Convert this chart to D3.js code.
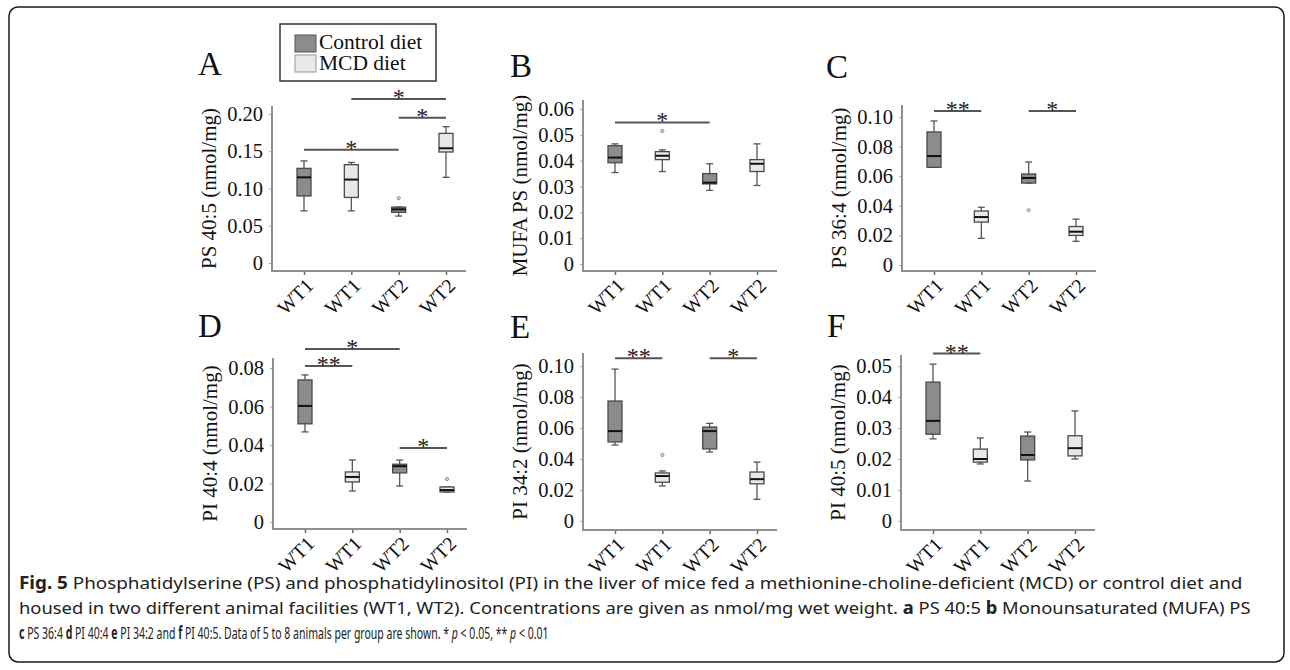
<!DOCTYPE html>
<html>
<head>
<meta charset="utf-8">
<script src="https://cdn.jsdelivr.net/npm/d3@7"></script>
<style>
  body { margin: 0; background: #fff; }
  svg { display: block; }
</style>
</head>
<body>
<script>
// groups along the x axis of every panel
const categories = ["WT1", "WT1", "WT2", "WT2"];
const diets = ["Control", "MCD", "Control", "MCD"];

// box stats per group: [whisker low, q1, median, q3, whisker high]
const boxesA = [[0.070, 0.090, 0.115, 0.127, 0.137], [0.070, 0.088, 0.112, 0.132, 0.135], [0.063, 0.068, 0.072, 0.075, 0.075], [0.115, 0.149, 0.154, 0.174, 0.183]];
const boxesB = [[0.0354, 0.0392, 0.0412, 0.0458, 0.0465], [0.0358, 0.0404, 0.0419, 0.0435, 0.0442], [0.0285, 0.031, 0.0315, 0.035, 0.0388], [0.0304, 0.0358, 0.0388, 0.0404, 0.0465]];
const boxesC = [[0.066, 0.066, 0.0736, 0.0899, 0.0973], [0.018, 0.029, 0.0324, 0.0365, 0.039], [0.0554, 0.0554, 0.0588, 0.0615, 0.0696], [0.016, 0.020, 0.0225, 0.026, 0.031]];
const boxesD = [[0.0468, 0.051, 0.0603, 0.0738, 0.0764], [0.0161, 0.0208, 0.0234, 0.026, 0.0322], [0.0187, 0.0255, 0.029, 0.030, 0.0322], [0.0156, 0.0156, 0.0166, 0.0182, 0.0182]];
const boxesE = [[0.049, 0.051, 0.058, 0.0774, 0.098], [0.0226, 0.025, 0.029, 0.031, 0.0323], [0.0445, 0.0465, 0.058, 0.0606, 0.063], [0.014, 0.024, 0.027, 0.0316, 0.038]];
const boxesF = [[0.0265, 0.028, 0.0323, 0.0448, 0.0506], [0.0184, 0.019, 0.020, 0.0232, 0.0268], [0.0129, 0.0197, 0.0213, 0.0274, 0.0287], [0.020, 0.021, 0.0235, 0.0275, 0.0355]];

// outliers: [group, value]
const outliersA = [[2, 0.087]];
const outliersB = [[1, 0.0515]];
const outliersC = [[2, 0.037]];
const outliersD = [[3, 0.0223]];
const outliersE = [[1, 0.0426]];
const outliersF = [];

// significance bars: [from group, to group, value, label]
const sigA = [[1, 3, 0.22, "*"], [2, 3, 0.195, "*"], [0, 2, 0.152, "*"]];
const sigB = [[0, 2, 0.0548, "*"]];
const sigC = [[0, 1, 0.104, "**"], [2, 3, 0.104, "*"]];
const sigD = [[0, 2, 0.0899, "*"], [0, 1, 0.081, "**"], [2, 3, 0.0384, "*"]];
const sigE = [[0, 1, 0.105, "**"], [2, 3, 0.105, "*"]];
const sigF = [[0, 1, 0.054, "**"]];

const ticksA = [0, 0.05, 0.10, 0.15, 0.20];
const ticksB = [0, 0.01, 0.02, 0.03, 0.04, 0.05, 0.06];
const ticksC = [0, 0.02, 0.04, 0.06, 0.08, 0.10];
const ticksD = [0, 0.02, 0.04, 0.06, 0.08];
const ticksE = [0, 0.02, 0.04, 0.06, 0.08, 0.10];
const ticksF = [0, 0.01, 0.02, 0.03, 0.04, 0.05];

const yTitles = ["PS 40:5 (nmol/mg)", "MUFA PS (nmol/mg)", "PS 36:4 (nmol/mg)", "PI 40:4 (nmol/mg)", "PI 34:2 (nmol/mg)", "PI 40:5 (nmol/mg)"];
const letters = ["A", "B", "C", "D", "E", "F"];
const legendLabels = ["Control diet", "MCD diet"];

// layout of each panel (pixels)
const layout = [
  { x0: 272, base: 271, top: 106, yZero: 263, yMax: 114, lx: 198, ly: 75 },
  { x0: 583, base: 271, top: 100, yZero: 264, yMax: 109, lx: 510, ly: 77 },
  { x0: 902, base: 271, top: 105, yZero: 265, yMax: 117, lx: 826, ly: 78 },
  { x0: 273, base: 529, top: 358, yZero: 522, yMax: 368, lx: 198, ly: 337 },
  { x0: 583, base: 530, top: 353, yZero: 521, yMax: 366, lx: 510, ly: 338 },
  { x0: 901, base: 530, top: 355, yZero: 521, yMax: 366, lx: 827, ly: 337 }
];

const fill = { Control: "#8c8c8c", MCD: "#e8e8e8" };
const serif = "'Liberation Serif', 'Times New Roman', serif";

const svg = d3.select("body").append("svg")
  .attr("width", 1290)
  .attr("height", 670);

svg.append("rect")
  .attr("x", 9).attr("y", 7)
  .attr("width", 1275).attr("height", 655)
  .attr("rx", 9)
  .attr("fill", "none")
  .attr("stroke", "#1a1a1a")
  .attr("stroke-width", 1.5);

function drawPanel(i, ticks, boxes, outliers, sigs) {
  const p = layout[i];
  const g = svg.append("g");
  const y = d3.scaleLinear().domain([0, d3.max(ticks)]).range([p.yZero, p.yMax]);
  const x = d3.scalePoint().domain(d3.range(categories.length)).range([p.x0 + 32, p.x0 + 174]);
  const right = p.x0 + 194;

  // y axis
  const ya = g.append("g")
    .attr("transform", `translate(${p.x0},0)`)
    .call(d3.axisLeft(y).tickValues(ticks)
      .tickFormat(d => d === 0 ? "0" : d.toFixed(2))
      .tickSize(3).tickPadding(6));
  ya.select(".domain").remove();
  ya.selectAll(".tick line").attr("stroke", "#aaa");
  ya.selectAll(".tick text")
    .attr("font-family", serif)
    .attr("font-size", 20.5)
    .attr("fill", "#111");

  // x axis
  const xa = g.append("g")
    .attr("transform", `translate(0,${p.base})`)
    .call(d3.axisBottom(x).tickFormat(k => categories[k]).tickSize(4));
  xa.select(".domain").remove();
  xa.selectAll(".tick line").attr("stroke", "#666").attr("stroke-width", 1.5);
  xa.selectAll(".tick text")
    .attr("x", 0).attr("y", 0)
    .attr("dy", "0.35em")
    .attr("text-anchor", "end")
    .attr("transform", "translate(5,11) rotate(-45)")
    .attr("font-family", serif)
    .attr("font-size", 20)
    .attr("fill", "#111");

  // L shaped axis lines
  g.append("path")
    .attr("d", `M${p.x0},${p.top}V${p.base}H${right}`)
    .attr("fill", "none")
    .attr("stroke", "#8f8f8f")
    .attr("stroke-width", 2);

  // boxes
  const bw = 14, cw = 7;
  const bg = g.selectAll(".box").data(boxes).join("g").attr("class", "box");
  bg.append("line")
    .attr("x1", (d, k) => x(k)).attr("x2", (d, k) => x(k))
    .attr("y1", d => y(d[0])).attr("y2", d => y(d[4]))
    .attr("stroke", "#555").attr("stroke-width", 1.3);
  bg.append("line")
    .attr("x1", (d, k) => x(k) - cw / 2).attr("x2", (d, k) => x(k) + cw / 2)
    .attr("y1", d => y(d[0])).attr("y2", d => y(d[0]))
    .attr("stroke", "#555").attr("stroke-width", 1.3);
  bg.append("line")
    .attr("x1", (d, k) => x(k) - cw / 2).attr("x2", (d, k) => x(k) + cw / 2)
    .attr("y1", d => y(d[4])).attr("y2", d => y(d[4]))
    .attr("stroke", "#555").attr("stroke-width", 1.3);
  bg.append("rect")
    .attr("x", (d, k) => x(k) - bw / 2)
    .attr("width", bw)
    .attr("y", d => y(d[3]))
    .attr("height", d => Math.max(1, y(d[1]) - y(d[3])))
    .attr("fill", (d, k) => fill[diets[k]])
    .attr("stroke", "#4a4a4a")
    .attr("stroke-width", 1.3);
  bg.append("line")
    .attr("x1", (d, k) => x(k) - bw / 2).attr("x2", (d, k) => x(k) + bw / 2)
    .attr("y1", d => y(d[2])).attr("y2", d => y(d[2]))
    .attr("stroke", "#111").attr("stroke-width", 2);

  g.selectAll(".out").data(outliers).join("circle")
    .attr("cx", d => x(d[0]))
    .attr("cy", d => y(d[1]))
    .attr("r", 1.6)
    .attr("fill", "#ddd")
    .attr("stroke", "#777")
    .attr("stroke-width", 0.8);

  // significance bars
  const sg = g.selectAll(".sig").data(sigs).join("g");
  sg.append("line")
    .attr("x1", d => x(d[0])).attr("x2", d => x(d[1]))
    .attr("y1", d => y(d[2])).attr("y2", d => y(d[2]))
    .attr("stroke", "#555").attr("stroke-width", 2);
  sg.append("text")
    .attr("x", d => (x(d[0]) + x(d[1])) / 2)
    .attr("y", d => y(d[2]) + 6)
    .attr("text-anchor", "middle")
    .attr("font-family", serif)
    .attr("font-size", 24)
    .attr("fill", "#222")
    .text(d => d[3]);

  // axis title
  g.append("text")
    .attr("transform", `translate(${p.x0 - 63},${(p.top + p.base) / 2}) rotate(-90)`)
    .attr("text-anchor", "middle")
    .attr("dy", "0.35em")
    .attr("font-family", serif)
    .attr("font-size", 21)
    .attr("fill", "#111")
    .text(yTitles[i]);

  // panel letter
  g.append("text")
    .attr("x", p.lx).attr("y", p.ly)
    .attr("font-family", serif)
    .attr("font-size", 33)
    .attr("fill", "#111")
    .text(letters[i]);
}

drawPanel(0, ticksA, boxesA, outliersA, sigA);
drawPanel(1, ticksB, boxesB, outliersB, sigB);
drawPanel(2, ticksC, boxesC, outliersC, sigC);
drawPanel(3, ticksD, boxesD, outliersD, sigD);
drawPanel(4, ticksE, boxesE, outliersE, sigE);
drawPanel(5, ticksF, boxesF, outliersF, sigF);

// legend
const lg = svg.append("g");
lg.append("rect")
  .attr("x", 280).attr("y", 24)
  .attr("width", 156).attr("height", 57)
  .attr("fill", "#fff")
  .attr("stroke", "#333")
  .attr("stroke-width", 1.5);
legendLabels.forEach((t, k) => {
  lg.append("rect")
    .attr("x", 295).attr("y", 35 + k * 20)
    .attr("width", 21).attr("height", 17)
    .attr("fill", k === 0 ? fill.Control : fill.MCD)
    .attr("stroke", k === 0 ? "#555" : "#999")
    .attr("stroke-width", 1);
  lg.append("text")
    .attr("x", 319).attr("y", 49 + k * 21)
    .attr("font-family", serif)
    .attr("font-size", 21.5)
    .attr("fill", "#111")
    .text(t);
});

// caption
const capLines = [
  { y: 589, w: 1225, parts: [["Fig. 5", "b"], [" Phosphatidylserine (PS) and phosphatidylinositol (PI) in the liver of mice fed a methionine-choline-deficient (MCD) or control diet and", ""]] },
  { y: 614, w: 1232, parts: [["housed in two different animal facilities (WT1, WT2). Concentrations are given as nmol/mg wet weight. ", ""], ["a", "b"], [" PS 40:5 ", ""], ["b", "b"], [" Monounsaturated (MUFA) PS", ""]] },
  { y: 639, w: 530, parts: [["c", "b"], [" PS 36:4 ", ""], ["d", "b"], [" PI 40:4 ", ""], ["e", "b"], [" PI 34:2 and ", ""], ["f", "b"], [" PI 40:5. Data of 5 to 8 animals per group are shown. * ", ""], ["p", "i"], [" < 0.05, ** ", ""], ["p", "i"], [" < 0.01", ""]] }
];
capLines.forEach(line => {
  const t = svg.append("text")
    .attr("font-family", "'Liberation Sans Narrow', 'Noto Sans', sans-serif")
    .attr("font-size", 17)
    .attr("fill", "#222")
    .attr("xml:space", "preserve");
  line.parts.forEach(([s, st]) => {
    t.append("tspan")
      .attr("font-weight", st === "b" ? "bold" : null)
      .attr("font-style", st === "i" ? "italic" : null)
      .text(s);
  });
  const len = t.node().getComputedTextLength();
  t.attr("transform", `translate(19,${line.y}) scale(${line.w / len},1)`);
});
</script>
</body>
</html>
